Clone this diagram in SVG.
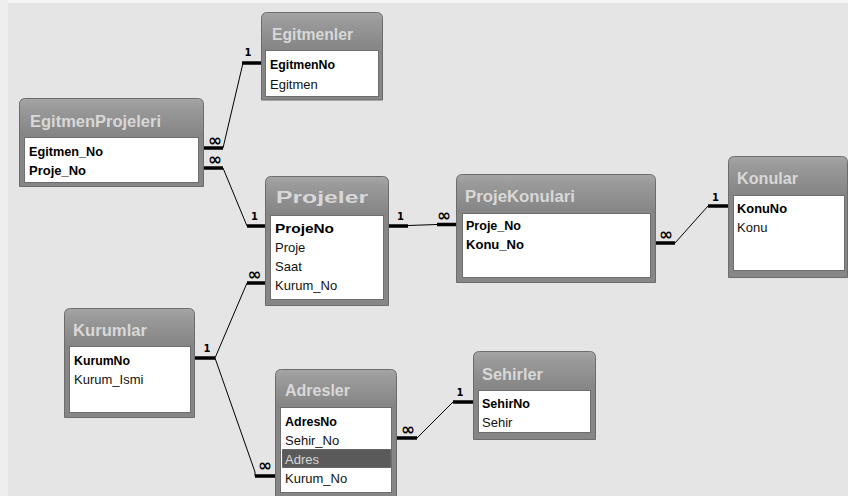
<svg xmlns="http://www.w3.org/2000/svg" width="848" height="496" viewBox="0 0 848 496">
  <defs>
    <linearGradient id="hdr" gradientUnits="userSpaceOnUse" x1="0" y1="0" x2="0" y2="38">
      <stop offset="0" stop-color="#a6a6a6"/>
      <stop offset="0.25" stop-color="#9a9a9a"/>
      <stop offset="1" stop-color="#858585"/>
    </linearGradient>
    <style>
      .frame { fill: #868686; stroke: #6c6c6c; stroke-width: 1; }
      .head { fill: url(#hdr); }
      .title { font-family: "Liberation Sans", Arial, sans-serif; font-weight: bold; font-size: 16px; fill: #d8d8d8; }
      .box { fill: #ffffff; stroke: #6e6e6e; stroke-width: 1; }
      .f { font-family: "Liberation Sans", Arial, sans-serif; font-size: 13px; fill: #111; }
      .k { font-family: "Liberation Sans", Arial, sans-serif; font-size: 13px; font-weight: bold; fill: #000; }
      .sel { fill: #5a5a5a; stroke: #222; stroke-width: 1; stroke-dasharray: 1 1; }
      .selt { font-family: "Liberation Sans", Arial, sans-serif; font-size: 13px; fill: #d8d8d8; }
      .thin { fill: none; stroke: #000; stroke-width: 1; }
      .bar { fill: none; stroke: #000; stroke-width: 3.5; }
      .one { font-family: "DejaVu Sans", sans-serif; font-weight: bold; font-size: 10px; fill: #000; text-anchor: middle; }
      .many { font-family: "DejaVu Sans", sans-serif; font-weight: bold; font-size: 17px; fill: #000; text-anchor: middle; }
    </style>
  </defs>

  <!-- canvas -->
  <rect x="0" y="0" width="848" height="496" fill="#e5e5e5"/>
  <rect x="0" y="0" width="848" height="3" fill="#f6f6f6"/>
  <rect x="0" y="0" width="8" height="496" fill="#eeeeee"/>

  <!-- relationship lines -->
  <g id="connectors">
    <!-- EgitmenProjeleri.Egitmen_No -> Egitmenler.EgitmenNo -->
    <line class="bar" x1="204" y1="148" x2="223" y2="148"/>
    <line class="thin" x1="223" y1="148" x2="243" y2="63"/>
    <line class="bar" x1="242" y1="63" x2="261" y2="63"/>
    <text class="many" x="215" y="146">∞</text>
    <text class="one" x="248" y="56">1</text>

    <!-- EgitmenProjeleri.Proje_No -> Projeler.ProjeNo -->
    <line class="bar" x1="204" y1="168" x2="223" y2="168"/>
    <line class="thin" x1="223" y1="168" x2="247" y2="226"/>
    <line class="bar" x1="247" y1="226" x2="265" y2="226"/>
    <text class="many" x="215" y="165">∞</text>
    <text class="one" x="254.5" y="220">1</text>

    <!-- Projeler.ProjeNo -> ProjeKonulari.Proje_No -->
    <line class="bar" x1="389" y1="226" x2="408" y2="226"/>
    <line class="thin" x1="408" y1="225.5" x2="437" y2="224.5"/>
    <line class="bar" x1="437" y1="224.5" x2="456" y2="224.5"/>
    <text class="one" x="400.5" y="220">1</text>
    <text class="many" x="444" y="221">∞</text>

    <!-- ProjeKonulari.Konu_No -> Konular.KonuNo -->
    <line class="bar" x1="656" y1="243" x2="675" y2="243"/>
    <line class="thin" x1="675" y1="243" x2="708" y2="206"/>
    <line class="bar" x1="708" y1="206" x2="728" y2="206"/>
    <text class="many" x="666" y="240">∞</text>
    <text class="one" x="715.5" y="201">1</text>

    <!-- Kurumlar.KurumNo -> Projeler.Kurum_No -->
    <line class="bar" x1="195" y1="358" x2="215" y2="358"/>
    <line class="thin" x1="215" y1="358" x2="247" y2="283"/>
    <line class="bar" x1="247" y1="283" x2="265" y2="283"/>
    <text class="one" x="207" y="352">1</text>
    <text class="many" x="254.5" y="280">∞</text>

    <!-- Kurumlar.KurumNo -> Adresler.Kurum_No -->
    <polyline class="thin" points="215,358 255,472 255,476"/>
    <line class="bar" x1="255" y1="476" x2="275" y2="476"/>
    <text class="many" x="265" y="471">∞</text>

    <!-- Adresler.Sehir_No -> Sehirler.SehirNo -->
    <line class="bar" x1="397" y1="438" x2="417" y2="438"/>
    <line class="thin" x1="417" y1="438" x2="453" y2="402"/>
    <line class="bar" x1="453" y1="402" x2="473" y2="402"/>
    <text class="many" x="408" y="435">∞</text>
    <text class="one" x="460" y="396">1</text>
  </g>

  <!-- tables -->
  <g id="Egitmenler" transform="translate(261,12)">
    <path class="frame" d="M0.5,88 V6.5 Q0.5,0.5 6.5,0.5 H115.5 Q121.5,0.5 121.5,6.5 V88 Z"/>
    <path class="head" d="M1,38 V6.5 Q1,1 6.5,1 H115.5 Q121,1 121,6.5 V38 Z"/>
    <text class="title" x="11" y="28" textLength="81" lengthAdjust="spacingAndGlyphs">Egitmenler</text>
    <rect class="box" x="4.5" y="38.5" width="113" height="46"/>
    <text class="k" x="9" y="57" textLength="65" lengthAdjust="spacingAndGlyphs">EgitmenNo</text>
    <text class="f" x="9" y="77">Egitmen</text>
  </g>

  <g id="EgitmenProjeleri" transform="translate(19,98)">
    <path class="frame" d="M0.5,88.5 V6.5 Q0.5,0.5 6.5,0.5 H178.5 Q184.5,0.5 184.5,6.5 V88.5 Z"/>
    <path class="head" d="M1,39 V6.5 Q1,1 6.5,1 H178.5 Q184,1 184,6.5 V39 Z"/>
    <text class="title" x="11" y="29" textLength="131" lengthAdjust="spacingAndGlyphs">EgitmenProjeleri</text>
    <rect class="box" x="5.5" y="39.5" width="174" height="45"/>
    <text class="k" x="10" y="58" textLength="74" lengthAdjust="spacingAndGlyphs">Egitmen_No</text>
    <text class="k" x="10" y="77" textLength="57" lengthAdjust="spacingAndGlyphs">Proje_No</text>
  </g>

  <g id="Projeler" transform="translate(265,176)">
    <path class="frame" d="M0.5,129.5 V6.5 Q0.5,0.5 6.5,0.5 H117.5 Q123.5,0.5 123.5,6.5 V129.5 Z"/>
    <path class="head" d="M1,39 V6.5 Q1,1 6.5,1 H117.5 Q123,1 123,6.5 V39 Z"/>
    <text class="title" x="11" y="27" textLength="92" lengthAdjust="spacingAndGlyphs">Projeler</text>
    <rect class="box" x="5.5" y="39.5" width="113" height="84"/>
    <text class="k" x="10" y="57" textLength="59" lengthAdjust="spacingAndGlyphs">ProjeNo</text>
    <text class="f" x="10" y="76">Proje</text>
    <text class="f" x="10" y="95">Saat</text>
    <text class="f" x="10" y="114">Kurum_No</text>
  </g>

  <g id="ProjeKonulari" transform="translate(456,174)">
    <path class="frame" d="M0.5,108.5 V6.5 Q0.5,0.5 6.5,0.5 H193.5 Q199.5,0.5 199.5,6.5 V108.5 Z"/>
    <path class="head" d="M1,39 V6.5 Q1,1 6.5,1 H193.5 Q199,1 199,6.5 V39 Z"/>
    <text class="title" x="9" y="28" textLength="110" lengthAdjust="spacingAndGlyphs">ProjeKonulari</text>
    <rect class="box" x="6.5" y="39.5" width="188" height="64"/>
    <text class="k" x="10" y="56" textLength="55" lengthAdjust="spacingAndGlyphs">Proje_No</text>
    <text class="k" x="10" y="75" textLength="58" lengthAdjust="spacingAndGlyphs">Konu_No</text>
  </g>

  <g id="Konular" transform="translate(728,156)">
    <path class="frame" d="M0.5,121.5 V6.5 Q0.5,0.5 6.5,0.5 H113.5 Q119.5,0.5 119.5,6.5 V121.5 Z"/>
    <path class="head" d="M1,39 V6.5 Q1,1 6.5,1 H113.5 Q119,1 119,6.5 V39 Z"/>
    <text class="title" x="9" y="28" textLength="61" lengthAdjust="spacingAndGlyphs">Konular</text>
    <rect class="box" x="5.5" y="39.5" width="111" height="75"/>
    <text class="k" x="9" y="57" textLength="50" lengthAdjust="spacingAndGlyphs">KonuNo</text>
    <text class="f" x="9" y="76">Konu</text>
  </g>

  <g id="Kurumlar" transform="translate(64,308)">
    <path class="frame" d="M0.5,109.5 V6.5 Q0.5,0.5 6.5,0.5 H124.5 Q130.5,0.5 130.5,6.5 V109.5 Z"/>
    <path class="head" d="M1,38 V6.5 Q1,1 6.5,1 H124.5 Q130,1 130,6.5 V38 Z"/>
    <text class="title" x="9" y="28" textLength="74" lengthAdjust="spacingAndGlyphs">Kurumlar</text>
    <rect class="box" x="5.5" y="38.5" width="121" height="66"/>
    <text class="k" x="10" y="57" textLength="56" lengthAdjust="spacingAndGlyphs">KurumNo</text>
    <text class="f" x="10" y="76">Kurum_Ismi</text>
  </g>

  <g id="Adresler" transform="translate(275,369)">
    <path class="frame" d="M0.5,130 V6.5 Q0.5,0.5 6.5,0.5 H115.5 Q121.5,0.5 121.5,6.5 V130 Z"/>
    <path class="head" d="M1,38 V6.5 Q1,1 6.5,1 H115.5 Q121,1 121,6.5 V38 Z"/>
    <text class="title" x="10" y="27" textLength="65" lengthAdjust="spacingAndGlyphs">Adresler</text>
    <rect class="box" x="5.5" y="38.5" width="111" height="85"/>
    <text class="k" x="10" y="57" textLength="52" lengthAdjust="spacingAndGlyphs">AdresNo</text>
    <text class="f" x="10" y="76">Sehir_No</text>
    <rect class="sel" x="7.5" y="80.5" width="108" height="18"/>
    <text class="selt" x="10" y="95">Adres</text>
    <text class="f" x="10" y="114">Kurum_No</text>
  </g>

  <g id="Sehirler" transform="translate(473,351)">
    <path class="frame" d="M0.5,88.5 V6.5 Q0.5,0.5 6.5,0.5 H116.5 Q122.5,0.5 122.5,6.5 V88.5 Z"/>
    <path class="head" d="M1,39 V6.5 Q1,1 6.5,1 H116.5 Q122,1 122,6.5 V39 Z"/>
    <text class="title" x="9" y="29" textLength="61" lengthAdjust="spacingAndGlyphs">Sehirler</text>
    <rect class="box" x="5.5" y="39.5" width="112" height="42"/>
    <text class="k" x="9" y="57" textLength="48" lengthAdjust="spacingAndGlyphs">SehirNo</text>
    <text class="f" x="9" y="76">Sehir</text>
  </g>
</svg>
